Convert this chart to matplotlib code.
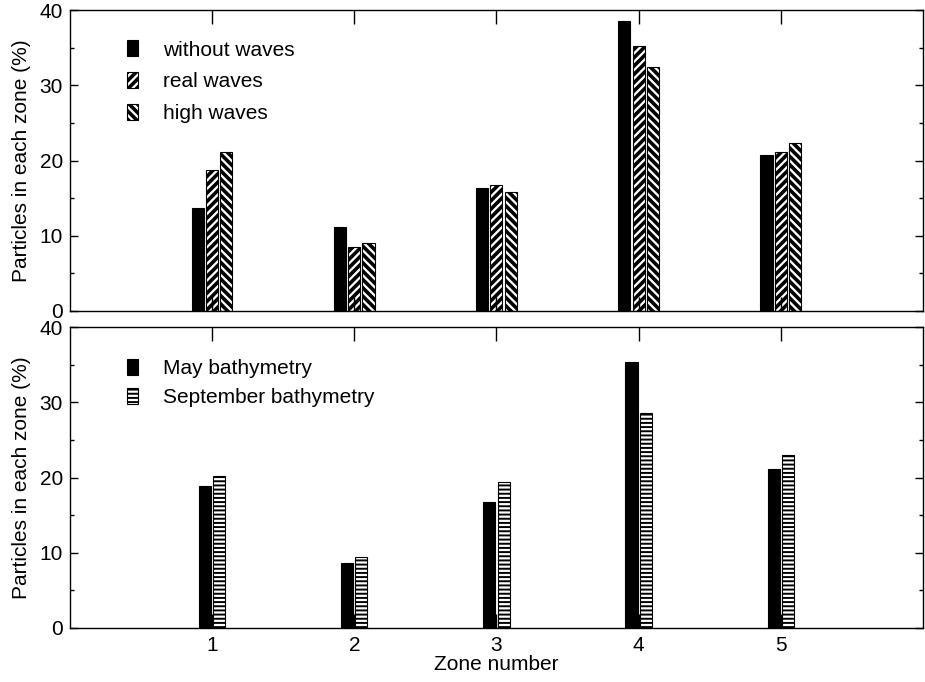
import matplotlib
matplotlib.use("Agg")
import matplotlib.pyplot as plt
import numpy as np

plt.rcParams['font.family'] = ['Liberation Sans', 'DejaVu Sans']
plt.rcParams['hatch.linewidth'] = 2.6

zones = [1, 2, 3, 4, 5]
yticks = [0, 10, 20, 30, 40]

without_waves = [13.7, 11.2, 16.3, 38.6, 20.8]
real_waves = [18.8, 8.5, 16.7, 35.2, 21.1]
high_waves = [21.1, 9.0, 15.8, 32.4, 22.3]

may_bathy = [18.9, 8.6, 16.8, 35.4, 21.1]
sept_bathy = [20.2, 9.4, 19.4, 28.6, 23.0]

top_labels = ["without waves", "real waves", "high waves"]
bottom_labels = ["May bathymetry", "September bathymetry"]

FS = 15

fig = plt.figure(figsize=(9.25, 6.82), dpi=100)
ax1 = fig.add_axes([0.0757, 0.544, 0.922, 0.441])
ax2 = fig.add_axes([0.0757, 0.0792, 0.922, 0.441])

x = np.array(zones, dtype=float)
w = 0.085

ax1.bar(x - 0.1, without_waves, w, color='black', edgecolor='black', linewidth=0.8, label=top_labels[0])
ax1.bar(x, real_waves, w, color='white', edgecolor='black', linewidth=0.8, hatch='////', label=top_labels[1])
ax1.bar(x + 0.1, high_waves, w, color='white', edgecolor='black', linewidth=0.8, hatch='\\\\\\\\', label=top_labels[2])

ax2.bar(x - 0.05, may_bathy, w, color='black', edgecolor='black', linewidth=0.8, label=bottom_labels[0])
with plt.rc_context({'hatch.linewidth': 1.4}):
    sept = ax2.bar(x + 0.05, sept_bathy, w, color='white', edgecolor='black', linewidth=0.8, hatch='----',
                   label=bottom_labels[1])
    for p in sept.patches:
        if hasattr(p, 'set_hatch_linewidth'):
            p.set_hatch_linewidth(1.4)

for ax in (ax1, ax2):
    ax.set_xlim(0, 6)
    ax.set_ylim(0, 40)
    ax.set_yticks(yticks)
    ax.set_yticks([5, 15, 25, 35], minor=True)
    ax.set_xticks(zones)
    ax.tick_params(axis='y', which='major', direction='in', length=6, width=1, left=True, right=True,
                   labelsize=FS, pad=5)
    ax.tick_params(axis='y', which='minor', direction='in', length=3, width=1, left=True, right=True)
    ax.tick_params(axis='x', which='major', direction='in', length=10, width=1, top=True, bottom=True,
                   labelsize=FS, pad=6)
    ax.tick_params(axis='x', which='minor', bottom=False, top=False)
    for s in ax.spines.values():
        s.set_linewidth(1.0)
    ax.set_ylabel("Particles in each zone (%)", fontsize=FS, labelpad=6)

ax1.tick_params(axis='x', labelbottom=False)
ax2.set_xlabel("Zone number", fontsize=FS, labelpad=0)

leg1 = ax1.legend(loc='upper left', bbox_to_anchor=(0.045, 0.962), frameon=False, fontsize=FS,
                  handlelength=0.5, handleheight=0.8, handletextpad=1.2, labelspacing=0.6)
leg2 = ax2.legend(loc='upper left', bbox_to_anchor=(0.045, 0.958), frameon=False, fontsize=FS,
                  handlelength=0.5, handleheight=0.8, handletextpad=1.2, labelspacing=0.5)
with plt.rc_context({'hatch.linewidth': 1.4}):
    for h in leg2.legend_handles:
        if h.get_hatch() and hasattr(h, 'set_hatch_linewidth'):
            h.set_hatch_linewidth(1.4)

fig.savefig("out.png", dpi=100)
